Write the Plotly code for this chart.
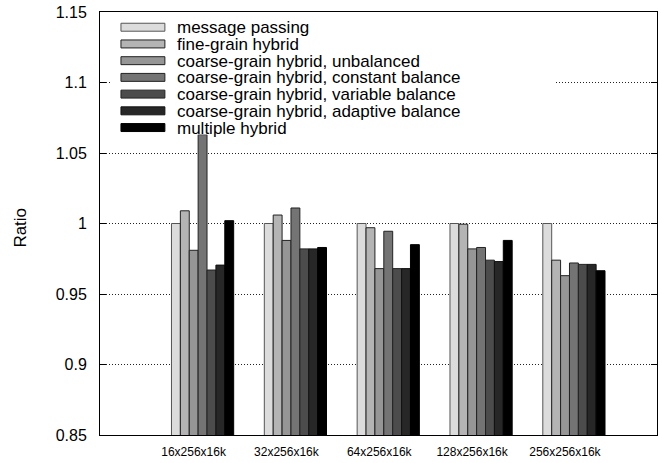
import plotly.graph_objects as go

categories = ["16x256x16k", "32x256x16k", "64x256x16k", "128x256x16k", "256x256x16k"]
series_names = [
    "message passing",
    "fine-grain hybrid",
    "coarse-grain hybrid, unbalanced",
    "coarse-grain hybrid, constant balance",
    "coarse-grain hybrid, variable balance",
    "coarse-grain hybrid, adaptive balance",
    "multiple hybrid",
]
message_passing = [1.000, 1.000, 1.000, 1.000, 1.000]
fine_grain_hybrid = [1.009, 1.006, 0.997, 0.9995, 0.974]
cg_unbalanced = [0.981, 0.988, 0.968, 0.982, 0.963]
cg_constant_balance = [1.063, 1.011, 0.9945, 0.983, 0.972]
cg_variable_balance = [0.967, 0.982, 0.968, 0.974, 0.971]
cg_adaptive_balance = [0.9705, 0.982, 0.968, 0.973, 0.971]
multiple_hybrid = [1.002, 0.983, 0.985, 0.988, 0.9665]
y_ticks = [0.85, 0.9, 0.95, 1.0, 1.05, 1.1, 1.15]
y_tick_text = ["0.85", "0.9", "0.95", "1", "1.05", "1.1", "1.15"]

series_values = [message_passing, fine_grain_hybrid, cg_unbalanced, cg_constant_balance,
                 cg_variable_balance, cg_adaptive_balance, multiple_hybrid]
colors = ["#dcdcdc", "#b4b4b4", "#969696", "#747474", "#4c4c4c", "#272727", "#000000"]
line_colors = ["#555555", "#222222", "#222222", "#222222", "#222222", "#111111", "#000000"]

FONT = "Liberation Sans, Arial, Helvetica, sans-serif"
W, H = 662, 463
ML, MR, MT, MB = 100, 4, 11, 27
PL, PR, PT, PB = ML, W - MR, MT, H - MB


def px_x(px):
    return (px - PL) / (PR - PL)


def px_y(py):
    return (PB - py) / (PB - PT)


x_idx = list(range(len(categories)))

fig = go.Figure()
for name, vals, col, lc in zip(series_names, series_values, colors, line_colors):
    fig.add_trace(go.Bar(
        x=x_idx, y=vals, name=name,
        marker=dict(color=col, line=dict(color=lc, width=1)),
        showlegend=False,
    ))

# legend (opaque key box like gnuplot)
shapes = [dict(type="rect", xref="paper", yref="paper",
               x0=px_x(112), x1=px_x(555), y0=px_y(134), y1=px_y(14),
               fillcolor="white", line=dict(width=0), layer="above")]
annotations = []
row0, drow = 26.3, 16.8
for k, (name, col, lc) in enumerate(zip(series_names, colors, line_colors)):
    yc = row0 + drow * k
    shapes.append(dict(type="rect", xref="paper", yref="paper",
                       x0=px_x(121), x1=px_x(165), y0=px_y(yc + 4), y1=px_y(yc - 4),
                       fillcolor=col, line=dict(color=lc, width=1), layer="above"))
    annotations.append(dict(xref="paper", yref="paper", x=px_x(175), y=px_y(yc + 0.5),
                            xanchor="left", yanchor="middle", showarrow=False,
                            text=name, font=dict(family=FONT, size=17, color="black")))

annotations.append(dict(xref="paper", yref="paper", x=px_x(20), y=px_y(227.5),
                        xanchor="center", yanchor="middle", showarrow=False,
                        text="Ratio", textangle=-90,
                        font=dict(family=FONT, size=17, color="black")))

fig.update_layout(
    width=W, height=H,
    margin=dict(l=ML, r=MR, t=MT, b=MB, pad=0),
    paper_bgcolor="white", plot_bgcolor="white",
    barmode="group", bargap=0.33, bargroupgap=0,
    font=dict(family=FONT, color="black"),
    shapes=shapes, annotations=annotations,
    showlegend=False,
)
fig.update_xaxes(
    range=[-1.105, 4.895],
    tickmode="array", tickvals=[i - 0.097 for i in x_idx], ticktext=categories,
    ticks="", showgrid=False, zeroline=False,
    showline=True, linecolor="black", linewidth=1, mirror=True,
    tickfont=dict(family=FONT, size=12, color="black"),
    ticklabelstandoff=6,
)
fig.update_yaxes(
    range=[0.85, 1.15],
    tickmode="array", tickvals=y_ticks, ticktext=y_tick_text,
    ticks="inside", ticklen=6, tickcolor="black", tickwidth=1,
    showgrid=True, gridcolor="#222222", gridwidth=1, griddash="1px,2px",
    zeroline=False,
    showline=True, linecolor="black", linewidth=1, mirror="ticks",
    tickfont=dict(family=FONT, size=16, color="black"),
    ticklabelstandoff=9,
)

fig.write_html("out.html")
